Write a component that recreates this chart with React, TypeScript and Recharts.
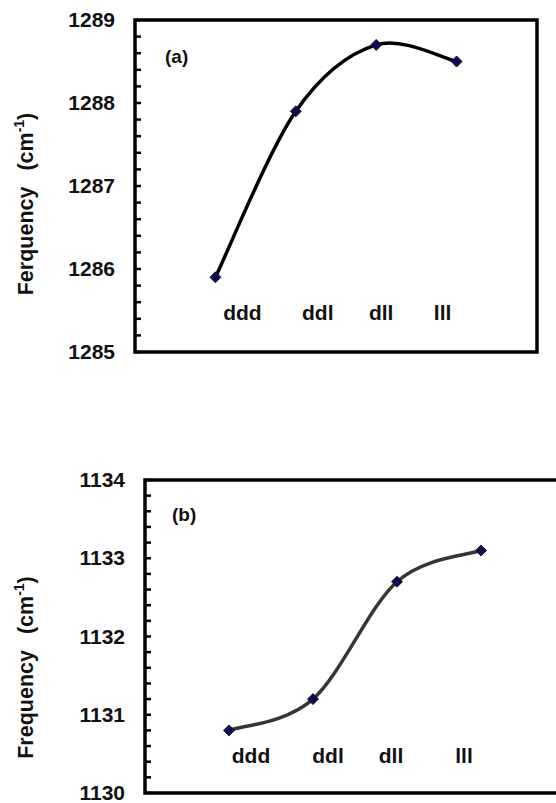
import { LineChart, Line, XAxis, YAxis, ReferenceArea } from 'recharts';

const categories = ['ddd', 'ddl', 'dll', 'lll'];
const freqA = [1285.9, 1287.9, 1288.7, 1288.5];
const freqB = [1130.8, 1131.2, 1132.7, 1133.1];
const yTicksA = [1285, 1286, 1287, 1288, 1289];
const yTicksB = [1130, 1131, 1132, 1133, 1134];

const FONT = '"Liberation Sans", Arial, sans-serif';

// minor ticks every 0.2 between the labelled integers
function withMinor(major: number[]) {
  const out: number[] = [];
  const lo = major[0];
  const steps = (major[major.length - 1] - lo) * 5;
  for (let i = 0; i <= steps; i++) out.push(Math.round((lo + i * 0.2) * 10) / 10);
  return out;
}

// Excel-style smoothed line (Catmull-Rom through every point)
function smoothCurve(context: any) {
  let pts: number[][] = [];
  return {
    areaStart() {},
    areaEnd() {},
    lineStart() {
      pts = [];
    },
    point(x: number, y: number) {
      pts.push([+x, +y]);
    },
    lineEnd() {
      if (!pts.length) return;
      context.moveTo(pts[0][0], pts[0][1]);
      for (let i = 0; i < pts.length - 1; i++) {
        const p0 = pts[i - 1] || pts[i];
        const p1 = pts[i];
        const p2 = pts[i + 1];
        const p3 = pts[i + 2] || p2;
        context.bezierCurveTo(
          p1[0] + (p2[0] - p0[0]) / 6,
          p1[1] + (p2[1] - p0[1]) / 6,
          p2[0] - (p3[0] - p1[0]) / 6,
          p2[1] - (p3[1] - p1[1]) / 6,
          p2[0],
          p2[1],
        );
      }
    },
  };
}

const Diamond = (props: any) => {
  const { cx, cy, index } = props;
  const r = 5.5;
  return (
    <path
      key={`d-${index}`}
      d={`M${cx},${cy - r}L${cx + r},${cy}L${cx},${cy + r}L${cx - r},${cy}Z`}
      fill="#0b0b55"
      stroke="#1a1a2a"
      strokeWidth={1}
    />
  );
};

const YTick = (props: any) => {
  const { x, y, payload } = props;
  const v = payload.value;
  const major = Math.abs(v - Math.round(v)) < 1e-6;
  return (
    <g>
      <line x1={x} x2={x + 6} y1={y} y2={y} stroke="#000" strokeWidth={2.5} />
      {major && (
        <text x={x - 20} y={y + 7} textAnchor="end" fontFamily={FONT} fontWeight="bold" fontSize={21} fill="#111">
          {v}
        </text>
      )}
    </g>
  );
};

type PanelProps = {
  values: number[];
  yTicks: number[];
  tag: string;
  axisTitle: string;
  width: number;
  height: number;
  margin: { top: number; right: number; bottom: number; left: number };
  axisWidth: number;
  lineColor: string;
  labelShift: number[];
  labelRise: number;
  titleShift: number;
  tagPos: [number, number];
};

function Panel({
  values,
  yTicks,
  tag,
  axisTitle,
  width,
  height,
  margin,
  axisWidth,
  lineColor,
  labelShift,
  labelRise,
  titleShift,
  tagPos,
}: PanelProps) {
  const data = values.map((v, i) => ({ x: i + 1, name: categories[i], freq: v }));
  const lo = yTicks[0];
  const hi = yTicks[yTicks.length - 1];

  const CatTick = (p: any) => {
    const i = Math.round(p.payload.value) - 1;
    return (
      <text
        x={p.x + labelShift[i]}
        y={p.y - labelRise}
        textAnchor="middle"
        fontFamily={FONT}
        fontWeight="bold"
        fontSize={21}
        fill="#111"
      >
        {categories[i]}
      </text>
    );
  };

  const AxisTitle = (p: any) => {
    const vb = p.viewBox;
    const cx = 33;
    const cy = vb.y + vb.height / 2 + titleShift;
    return (
      <text
        transform={`translate(${cx},${cy}) rotate(-90)`}
        textAnchor="middle"
        fontFamily={FONT}
        fontWeight="bold"
        fontSize={21.5}
        fill="#111"
      >
        {axisTitle}
        <tspan dx={16}>(cm</tspan>
        <tspan dy={-9} fontSize={14}>-1</tspan>
        <tspan dy={9}>)</tspan>
      </text>
    );
  };

  const TagLabel = (p: any) => {
    const vb = p.viewBox;
    return (
      <text x={vb.x + tagPos[0]} y={vb.y + tagPos[1]} fontFamily={FONT} fontWeight="bold" fontSize={19} fill="#111">
        {tag}
      </text>
    );
  };

  return (
    <LineChart width={width} height={height} data={data} margin={margin}>
      <XAxis
        type="number"
        dataKey="x"
        domain={[0, 5]}
        ticks={[1, 2, 3, 4]}
        interval={0}
        height={1}
        axisLine={false}
        tickLine={false}
        tickSize={0}
        tickMargin={0}
        tick={CatTick}
      />
      <YAxis
        type="number"
        domain={[lo, hi]}
        ticks={withMinor(yTicks)}
        interval={0}
        width={axisWidth}
        axisLine={false}
        tickLine={false}
        tickSize={0}
        tickMargin={0}
        tick={YTick}
        label={{ content: AxisTitle }}
      />
      <Line
        dataKey="freq"
        type={smoothCurve as any}
        stroke={lineColor}
        strokeWidth={3.5}
        dot={Diamond}
        activeDot={false}
        isAnimationActive={false}
      />
      <ReferenceArea
        y1={lo}
        y2={hi}
        fill="none"
        fillOpacity={0}
        stroke="#000"
        strokeWidth={3.5}
        ifOverflow="visible"
        label={{ content: TagLabel }}
      />
    </LineChart>
  );
}

export default function App() {
  return (
    <div
      style={{
        position: 'fixed',
        top: 0,
        left: 0,
        width: 556,
        height: 803,
        overflow: 'hidden',
        background: '#fff',
      }}
    >
      <div style={{ position: 'absolute', top: 0, left: 0 }}>
        <Panel
          values={freqA}
          yTicks={yTicksA}
          tag="(a)"
          axisTitle="Ferquency"
          width={556}
          height={370}
          margin={{ top: 20, right: 19, bottom: 17, left: 0 }}
          axisWidth={135}
          lineColor="#000"
          labelShift={[27, 22, 5, -14]}
          labelRise={32}
          titleShift={18}
          tagPos={[30, 43]}
        />
      </div>
      <div style={{ position: 'absolute', top: 460, left: 0 }}>
        <Panel
          values={freqB}
          yTicks={yTicksB}
          tag="(b)"
          axisTitle="Frequency"
          width={580}
          height={345}
          margin={{ top: 20, right: 15, bottom: 11, left: 0 }}
          axisWidth={145}
          lineColor="#363636"
          labelShift={[22, 15, -6, -17]}
          labelRise={30}
          titleShift={31}
          tagPos={[27, 41]}
        />
      </div>
    </div>
  );
}
